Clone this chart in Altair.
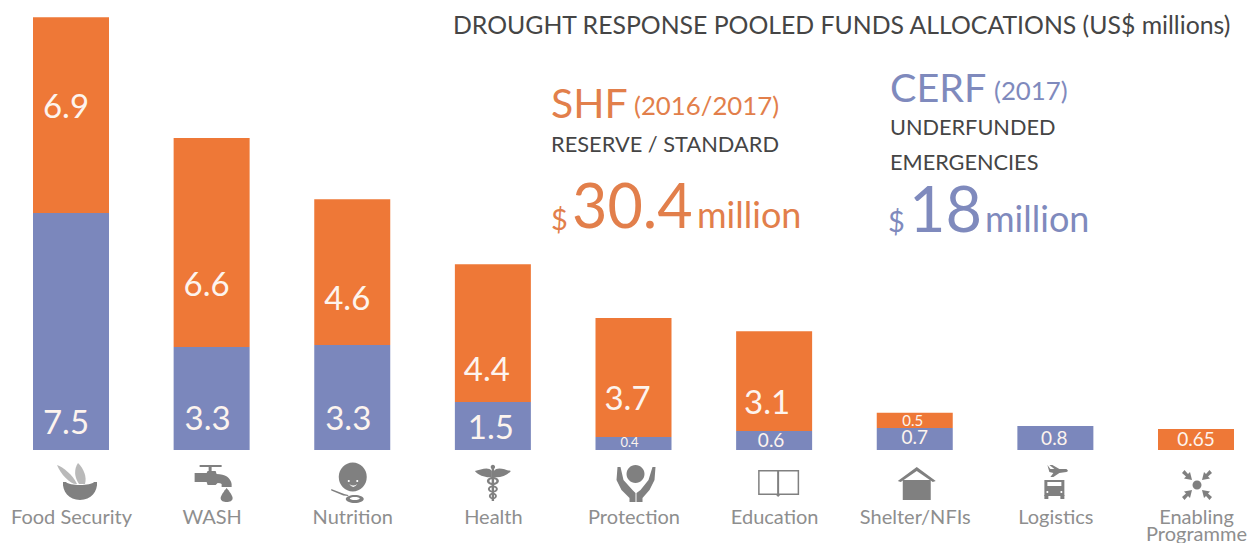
import altair as alt
import pandas as pd

categories = ["Food Security", "WASH", "Nutrition", "Health", "Protection",
              "Education", "Shelter/NFIs", "Logistics", "Enabling Programme"]
# Segment lengths as drawn in the picture (the original is not strictly to scale)
cerf_drawn = [7.52, 3.27, 3.33, 1.52, 0.41, 0.60, 0.70, 0.76, 0.0]
shf_drawn = [6.22, 6.63, 4.63, 4.38, 3.78, 3.17, 0.48, 0.0, 0.67]
cerf_labels = ["7.5", "3.3", "3.3", "1.5", "0.4", "0.6", "0.7", "0.8", ""]
shf_labels = ["6.9", "6.6", "4.6", "4.4", "3.7", "3.1", "0.5", "", "0.65"]
# Height of each label's centre, in the same units as the bars
cerf_label_at = [0.83, 0.96, 0.96, 0.67, 0.22, 0.29, 0.38, 0.35, 0]
shf_label_at = [10.84, 5.21, 4.77, 2.52, 1.59, 1.46, 0.92, 0, 0.32]
cerf_label_size = [33, 33, 33, 33, 13, 19, 19, 19, 0]
shf_label_size = [33, 33, 33, 33, 33, 33, 15, 0, 19]
# The labels sit a little left of the bar centres in the picture
cerf_label_nudge = [-5, -4, -4, -2, -4, -3, 0, -1, 0]
shf_label_nudge = [-5, -5, -5, -6, -6, -7, -2, 0, 0]

ORANGE = "#ee7837"
BLUE = "#7b87bc"
ORANGE_TEXT = "#e27f4b"
BLUE_TEXT = "#7f8abd"
INK = "#454545"
GRAY = "#8e8e8e"
ICON = "#808080"
LIGHT = "#b9b9b9"
FONT = "Lato"


def ellipse(cx, cy, rx, ry):
    return (f"M{cx - rx},{cy} a{rx},{ry} 0 1,0 {2 * rx},0 "
            f"a{rx},{ry} 0 1,0 {-2 * rx},0 Z")


def rect(x0, y0, x1, y1):
    return f"M{x0},{y0} L{x1},{y0} L{x1},{y1} L{x0},{y1} Z"


def inward_arrow(sx, sy, cx=1, cy=2):
    pts = [(-15, -12), (-12.5, -15), (-9, -11), (-7, -13), (-5, -5), (-13, -6.5), (-11, -8.5)]
    return "M" + " L".join(f"{cx + sx * -x},{cy + sy * -y}" for x, y in pts) + " Z"


icons = {
    "Food Security": [
        (LIGHT, "M-14,-18 C-8,-16 2,-8 6,1 C0,2 -10,-8 -14,-18 Z"),
        (LIGHT, "M7,-20 C13,-14 16,-6 14,1 L8,1 C3,-6 3,-14 7,-20 Z"),
        (ICON, "M-8,-1 L-5,-1 C-2,3 20,3 23,-1 L26,-1 C27,8 20,17 9,17 C-2,17 -9,8 -8,-1 Z"),
    ],
    "WASH": [
        (ICON, rect(-12, -18, 10, -16)),
        (ICON, rect(-3, -18, 0, -10)),
        (ICON, "M-17,-10 L-5,-10 L-4,-12 L4,-12 L5,-9 Q18,-9 20,1 L20,4 L10,4 L10,1 "
               "Q9,0 6,0 L4,2 L-4,2 L-5,-1 L-17,-1 Z"),
        (ICON, "M15,5 C15,5 21,12 21,15 C21,18 18,19 15,19 C12,19 9,18 9,15 C9,12 15,5 15,5 Z"),
    ],
    "Nutrition": [
        (ICON, ellipse(0.5, -6, 14, 14.5)),
        ("white", ellipse(-3.5, -2, 1, 1)),
        ("white", ellipse(5, -2, 1, 1)),
        ("white", "M-3,1 Q1,4 5,1 Q1,7 -3,1 Z"),
        (ICON, "M-21,6 L-8,11 L-4,12 L-4,13 L-9,12.5 L-21,7.5 Z"),
        (ICON, ellipse(2.5, 16, 9, 4)),
        ("white", ellipse(2.5, 15.5, 5, 1.5)),
    ],
    "Health": [
        (ICON, "M-1,-12 C-5,-17 -12,-13 -18,-12 C-14,-7 -6,-5 -1,-6 Z"),
        (ICON, "M1,-12 C5,-17 12,-13 18,-12 C14,-7 6,-5 1,-6 Z"),
        (ICON, ellipse(0, -16, 2.2, 2.2)),
        (ICON, ellipse(0, -2, 6, 4)),
        ("white", ellipse(0, -2, 3.5, 2)),
        (ICON, ellipse(0, 6, 5, 3.5)),
        ("white", ellipse(0, 6, 3, 1.8)),
        (ICON, ellipse(0, 13, 4, 3.2)),
        ("white", ellipse(0, 13, 2.2, 1.6)),
        (ICON, rect(-1.2, -16, 1.2, 18)),
    ],
    "Protection": [
        (ICON, ellipse(2, -9, 9, 9)),
        (ICON, "M-16,-16 L-13,-16 L-10,-3 L-1,7 L2,10 L2,19 L-4,19 L-4,15 L-12,7 L-17,-3 Z"),
        (ICON, "M19,-16 L22,-16 L21,-3 L16,7 L9,15 L9,19 L3,19 L3,10 L7,7 L15,-3 Z"),
    ],
    "Education": [
        (ICON, "M-16,-13 L25,-13 L25,12 L6,12 L4,14 L2,12 L-16,12 Z"),
        ("white", rect(-14.5, -11.5, 3, 10.5)),
        ("white", rect(5, -11.5, 23.5, 10.5)),
    ],
    "Shelter/NFIs": [
        (ICON, "M2,-16 L21,-2 L18,-1 L2,-12 L-14,-1 L-17,-2 Z"),
        (ICON, rect(-12, -3, 16, 17)),
        ("white", "M2,-10 L10,-4 L-6,-4 Z"),
    ],
    "Logistics": [
        (ICON, "M-8,-18 L-5,-14 L-1,-14 L-6,-18 L-3,-18 L4,-14 L11,-14 Q14,-12 11,-11 "
               "L4,-10 L-2,-6 L-5,-6 L-2,-10 L-6,-11 Z"),
        (ICON, rect(-11, -3, 9, 13)),
        (ICON, rect(-11, 12, -7, 16)),
        (ICON, rect(5, 12, 9, 16)),
        ("white", rect(-8, -1, 6, 3)),
        ("white", ellipse(-8, 9, 1, 1)),
        ("white", ellipse(6, 9, 1, 1)),
    ],
    "Enabling Programme": [
        (ICON, ellipse(1, 2, 4.5, 4.5)),
        (ICON, inward_arrow(1, 1)),
        (ICON, inward_arrow(-1, 1)),
        (ICON, inward_arrow(1, -1)),
        (ICON, inward_arrow(-1, -1)),
    ],
}

segments = []
labels = []
for i, cat in enumerate(categories):
    c, s = cerf_drawn[i], shf_drawn[i]
    if c:
        segments.append({"category": cat, "fund": "CERF", "start": 0.0, "end": c})
        labels.append({"category": cat, "text": cerf_labels[i], "at": cerf_label_at[i],
                       "fs": cerf_label_size[i], "nudge": cerf_label_nudge[i]})
    if s:
        segments.append({"category": cat, "fund": "SHF", "start": c, "end": c + s})
        labels.append({"category": cat, "text": shf_labels[i], "at": shf_label_at[i],
                       "fs": shf_label_size[i], "nudge": shf_label_nudge[i]})

icon_rows = [{"category": cat, "path": p, "paint": col}
             for cat, parts in icons.items() for col, p in parts]

x_scale = alt.Scale(type="point", domain=categories, range=[63, 1188], padding=0)
y_scale = alt.Scale(domain=[0, 14.03], nice=False, zero=False)

bars = alt.Chart(pd.DataFrame(segments)).mark_bar(width=76).encode(
    x=alt.X("category:N", scale=x_scale, sort=categories, title=None,
            axis=alt.Axis(domain=False, ticks=False, labelAngle=0, labelPadding=73,
                          labelBaseline="alphabetic", labelFont=FONT, labelFontSize=20,
                          labelColor=GRAY, labelLimit=300, labelOverlap=False,
                          labelLineHeight=17,
                          labelExpr="datum.label == 'Enabling Programme' ? "
                                    "['Enabling', 'Programme'] : datum.label")),
    y=alt.Y("end:Q", scale=y_scale, axis=None, title=None),
    y2="start:Q",
    color=alt.Color("fund:N", legend=None,
                    scale=alt.Scale(domain=["CERF", "SHF"], range=[BLUE, ORANGE])),
)

label_table = pd.DataFrame(labels)
value_labels = [
    alt.Chart(label_table[label_table["nudge"] == nudge]).mark_text(
        color="#fdf4ee", font=FONT, baseline="middle", align="center", dx=int(nudge)
    ).encode(
        x=alt.X("category:N", scale=x_scale, sort=categories),
        y=alt.Y("at:Q", scale=y_scale),
        text="text:N",
        size=alt.Size("fs:Q", scale=None),
    )
    for nudge in sorted(label_table["nudge"].unique())
]

icon_layer = alt.Chart(pd.DataFrame(icon_rows)).mark_point(
    filled=True, size=4, opacity=1, strokeWidth=0
).encode(
    x=alt.X("category:N", scale=x_scale, sort=categories),
    y=alt.value(475),
    shape=alt.Shape("path:N", scale=None),
    color=alt.Color("paint:N", scale=None),
)


def note(text, x, y, size, color):
    # x and y are page pixels in the reference; the chart origin sits 8px in
    return alt.Chart().mark_text(
        text=text, font=FONT, fontSize=size, color=color, align="left",
        baseline="alphabetic",
    ).encode(x=alt.value(x - 8), y=alt.value(y - 8))


notes = [
    note("DROUGHT RESPONSE POOLED FUNDS ALLOCATIONS (US$ millions)", 453, 34, 24.8, INK),
    note("SHF", 551, 118, 41, ORANGE_TEXT),
    note("(2016/2017)", 634, 115, 25.8, ORANGE_TEXT),
    note("RESERVE / STANDARD", 551, 152, 21.8, INK),
    note("$", 551, 230, 29, ORANGE_TEXT),
    note("30.4", 572, 228, 61, ORANGE_TEXT),
    note("million", 697, 228, 36, ORANGE_TEXT),
    note("CERF", 890, 102, 39.5, BLUE_TEXT),
    note("(2017)", 994, 100, 25.8, BLUE_TEXT),
    note("UNDERFUNDED", 890, 135, 21.7, INK),
    note("EMERGENCIES", 890, 170, 21.7, INK),
    note("$", 888, 232, 29, BLUE_TEXT),
    note("18", 909, 232, 63, BLUE_TEXT),
    note("million", 985, 232, 36, BLUE_TEXT),
]

chart = alt.layer(bars, *value_labels, icon_layer, *notes).resolve_scale(
    color="independent"
).properties(
    width=1240, height=442,
    padding={"left": 0, "top": 0, "right": 0, "bottom": 93},
    autosize=alt.AutoSizeParams(type="none"),
).configure_view(stroke=None)

chart.save("out.html", embed_options={"renderer": "svg", "actions": False})
